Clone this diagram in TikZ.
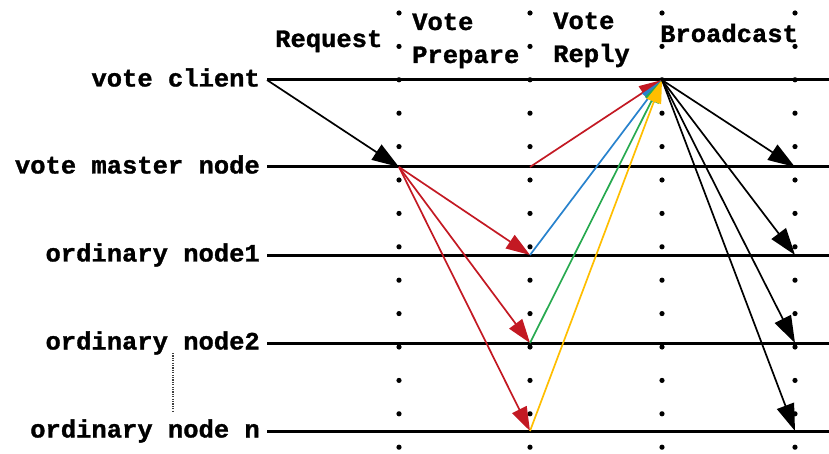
\documentclass[tikz,border=0pt]{standalone}
\usepackage{fontspec}
\setmonofont{Liberation Mono}[FakeStretch=1.02, BoldFeatures={FakeBold=1.2}]
\usetikzlibrary{arrows.meta}

\definecolor{msgred}{RGB}{195,25,35}
\definecolor{msgblue}{RGB}{40,130,205}
\definecolor{msggreen}{RGB}{40,170,80}
\definecolor{msgyellow}{RGB}{255,190,0}

\begin{document}
\begin{tikzpicture}[x=1pt,y=-1pt,
  lbl/.style={font=\ttfamily\bfseries\fontsize{25}{28}\selectfont, inner sep=0pt},
  life/.style={line width=3pt},
  tdot/.style={circle, fill=black, inner sep=0pt, minimum size=5.2pt},
  msg/.style={line width=1.7pt, -{Triangle[length=27pt,width=18pt]}},
  rmsg/.style={msg, color=msgred, -{Triangle[length=24pt,width=16pt]}},
  reply/.style={line width=1.7pt, -{Triangle[length=23pt,width=15pt]}},
]
\useasboundingbox (0,0) rectangle (829,454);

% dotted phase separators
\foreach \cx in {399,530,662,795}
  \foreach \k in {0,...,13}
    \node[tdot] at (\cx,{13+33.4*\k}) {};

% phase headings
\node[lbl, anchor=base west] (hreq) at (275,47) {Request};
\node[lbl, anchor=base west] (hvp1) at (412,30) {Vote};
\node[lbl, anchor=base west] (hvp2) at (412,63) {Prepare};
\node[lbl, anchor=base west] (hvr1) at (553,29) {Vote};
\node[lbl, anchor=base west] (hvr2) at (553,62) {Reply};
\node[lbl, anchor=base west] (hbc)  at (660,42) {Broadcast};

% participants and their lifelines
\foreach \name/\y/\txt in {cl/80/vote client, ms/167/vote master node,
    o1/255/ordinary node1, o2/343/ordinary node2, on/431/ordinary node n}{
  \node[lbl, anchor=base east] (\name) at (260,\y+6.5) {\txt};
  \coordinate (\name-s) at (267,\y);
  \coordinate (\name-e) at (829,\y);
  \coordinate (\name-1) at (399,\y);
  \coordinate (\name-2) at (530,\y);
  \coordinate (\name-3) at (662,\y);
  \coordinate (\name-4) at (795,\y);
  \draw[life] (\name-s) -- (\name-e);
}

% ellipsis between node2 and node n
\coordinate (gap-a) at (173,353);
\coordinate (gap-b) at (173,412);
\draw[line width=1.2pt, dash pattern=on 1.2pt off 1.2pt, black!75] (gap-a) -- (gap-b);

% request
\draw[msg] (cl-s) -- (ms-1);

% vote prepare
\draw[rmsg] (ms-1) -- (o1-2);
\draw[rmsg] (ms-1) -- (o2-2);
\draw[rmsg] (ms-1) -- (on-2);

% vote reply
\draw[reply, msgred]    (ms-2) -- (cl-3);
\draw[reply, msgblue]   (o1-2) -- (cl-3);
\draw[reply, msggreen]  (o2-2) -- (cl-3);
\draw[reply, msgyellow] (on-2) -- (cl-3);

% broadcast
\draw[msg] (cl-3) -- (ms-4);
\draw[msg] (cl-3) -- (o1-4);
\draw[msg] (cl-3) -- (o2-4);
\draw[msg] (cl-3) -- (on-4);
\end{tikzpicture}
\end{document}
